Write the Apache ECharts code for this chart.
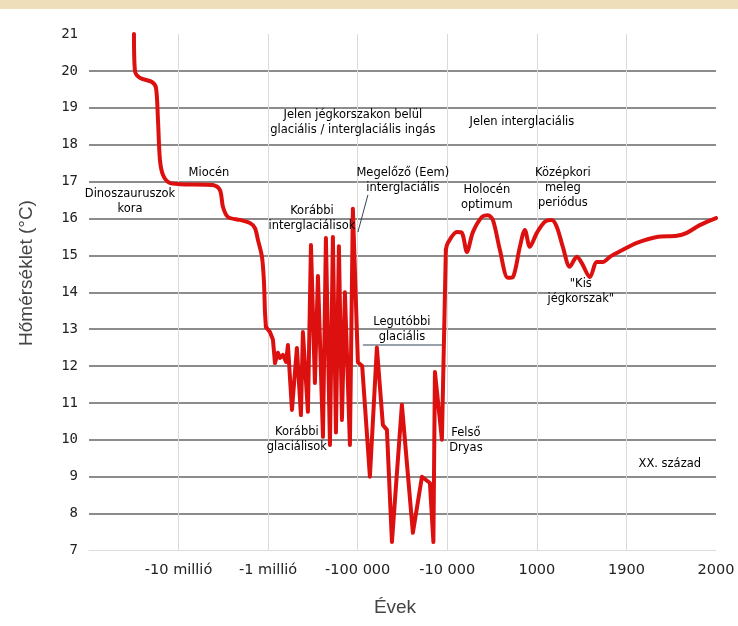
<!DOCTYPE html>
<html>
<head>
<meta charset="utf-8">
<script src="https://cdn.jsdelivr.net/npm/echarts@6/dist/echarts.min.js"></script>
<style>html,body{margin:0;padding:0;background:#fff}#c{width:738px;height:626px}</style>
</head>
<body>
<div id="c"></div>
<script>
// x positions are on the chart's piecewise (non-linear) time scale: 1 = -10 millió ... 7 = 2000
const tickLabels = ['', '-10 millió', '-1 millió', '-100 000', '-10 000', '1000', '1900', '2000'];
const yTicks = [7, 21];
const temperature = [
  [0.502,21.0],[0.513,20.0],[0.569,19.81],[0.703,19.70],[0.748,19.54],[0.770,18.67],[0.792,17.59],
  [0.826,17.18],[0.904,16.96],[1.016,16.93],[1.384,16.91],[1.462,16.77],[1.496,16.31],[1.551,16.04],
  [1.685,15.96],[1.797,15.88],[1.853,15.74],[1.886,15.42],[1.931,14.96],[1.953,14.3],[1.964,13.5],
  [1.975,13.06],[2.020,12.92],[2.054,12.71],[2.076,12.08],[2.109,12.36],[2.132,12.22],[2.165,12.30],
  [2.200,12.11],[2.221,12.57],[2.266,10.81],[2.321,12.49],[2.366,10.67],[2.388,12.92],[2.444,10.76],
  [2.478,15.28],[2.522,11.54],[2.556,14.44],[2.612,10.08],[2.645,15.47],[2.690,9.86],[2.723,15.50],
  [2.757,10.2],[2.790,15.25],[2.824,10.54],[2.857,14.0],[2.913,9.86],[2.946,16.26],[3.002,12.1],
  [3.050,12.0],[3.136,9.0],[3.214,12.5],[3.281,10.4],[3.326,10.27],[3.382,7.23],[3.493,10.95],
  [3.616,7.48],[3.717,9.0],[3.806,8.83],[3.845,7.23],[3.862,11.84],[3.940,10.0],[3.984,15.15],
  [4.007,15.34],[4.107,15.63],[4.163,15.61],[4.219,15.09],[4.286,15.63],[4.386,16.04],[4.453,16.09],
  [4.509,15.96],[4.587,15.15],[4.676,14.39],[4.732,14.41],[4.810,15.23],[4.866,15.69],[4.922,15.23],
  [5.000,15.61],[5.089,15.91],[5.167,15.96],[5.223,15.77],[5.290,15.23],[5.368,14.69],[5.446,14.96],
  [5.502,14.79],[5.592,14.41],[5.670,14.82],[5.737,14.82],[5.815,14.96],[5.960,15.15],[6.116,15.34],
  [6.339,15.50],[6.563,15.53],[6.674,15.61],[6.819,15.82],[7.0,16.01]
];
const annotations = [
  [0.458, 16.47, 'Dinoszauruszok\nkora'],
  [1.339, 17.23, 'Miocén'],
  [2.489, 15.99, 'Korábbi\ninterglaciálisok'],
  [3.504, 17.04, 'Megelőző (Eem)\ninterglaciális'],
  [4.442, 16.58, 'Holocén\noptimum'],
  [5.290, 16.83, 'Középkori\nmeleg\nperiódus'],
  [5.491, 14.01, '"Kis\njégkorszak"'],
  [3.493, 12.98, 'Legutóbbi\nglaciális'],
  [2.321, 10.00, 'Korábbi\nglaciálisok'],
  [4.208, 9.97, 'Felső\nDryas'],
  [6.484, 9.35, 'XX. század'],
  [2.946, 18.61, 'Jelen jégkorszakon belül\nglaciális / interglaciális ingás'],
  [4.833, 18.61, 'Jelen interglaciális']
];
const glacialUnderline = [[3.058, 12.57], [3.951, 12.57]];
const eemLeader = [[3.114, 16.64], [3.002, 15.63]];

const earlyPart = temperature.filter(p => p[0] <= 1.975);
const middlePart = temperature.filter(p => p[0] >= 1.975 && p[0] <= 3.984);
const latePart = temperature.filter(p => p[0] >= 3.984);

const redLine = {color: '#dd1010', width: 4, join: 'round', cap: 'round'};
const chart = echarts.init(document.getElementById('c'), null, {renderer: 'canvas'});
chart.setOption({
  backgroundColor: '#ffffff',
  animation: false,
  graphic: [
    {type: 'rect', left: 0, top: 0, shape: {width: 738, height: 9}, style: {fill: '#eedfba'}, silent: true},
    {type: 'text', x: 27, y: 273, rotation: Math.PI / 2, silent: true,
      style: {text: 'Hőmérséklet (°C)', font: '19px "Liberation Sans"', fill: '#444', align: 'center', verticalAlign: 'middle'}},
    {type: 'text', x: 395, y: 608, silent: true,
      style: {text: 'Évek', font: '19px "Liberation Sans"', fill: '#444', align: 'center', verticalAlign: 'middle'}}
  ],
  grid: {left: 89, right: 22, top: 34, bottom: 75.5},
  xAxis: {
    type: 'value', min: 0, max: 7, interval: 1,
    axisLine: {show: true, lineStyle: {color: '#dcdcdc', width: 1}},
    axisTick: {show: false},
    axisLabel: {margin: 12, fontFamily: 'DejaVu Sans', fontSize: 14.5, color: '#222',
      formatter: v => tickLabels[Math.round(v)] || ''},
    splitLine: {show: true, showMinLine: false, showMaxLine: false, lineStyle: {color: '#dadada', width: 1}}
  },
  yAxis: {
    type: 'value', min: yTicks[0], max: yTicks[1], interval: 1,
    axisLine: {show: false}, axisTick: {show: false},
    axisLabel: {margin: 11, fontFamily: 'DejaVu Sans Mono', fontSize: 14, color: '#222'},
    splitLine: {show: true, showMinLine: false, showMaxLine: false, lineStyle: {color: '#8c8c8c', width: 2}}
  },
  series: [
    {type: 'line', data: earlyPart, symbol: 'none', smooth: 0.3, silent: true, lineStyle: redLine, z: 5},
    {type: 'line', data: middlePart, symbol: 'none', smooth: false, silent: true, lineStyle: redLine, z: 5},
    {type: 'line', data: latePart, symbol: 'none', smooth: 0.3, silent: true, lineStyle: redLine, z: 5},
    {type: 'line', data: glacialUnderline, symbol: 'none', silent: true,
      lineStyle: {color: '#334455', width: 1}, z: 4},
    {type: 'line', data: eemLeader, symbol: 'none', silent: true,
      lineStyle: {color: '#334455', width: 1}, z: 4},
    {type: 'scatter', data: annotations.map(a => [a[0], a[1], a[2]]), symbolSize: 0, silent: true, z: 6,
      itemStyle: {opacity: 1},
      label: {show: true, position: 'inside', formatter: p => p.data[2], opacity: 1,
        fontFamily: 'DejaVu Sans', fontSize: 11.5, lineHeight: 15, color: '#000', align: 'center',
        textBorderWidth: 0, textBorderColor: 'transparent'}}
  ]
});
</script>
</body>
</html>
